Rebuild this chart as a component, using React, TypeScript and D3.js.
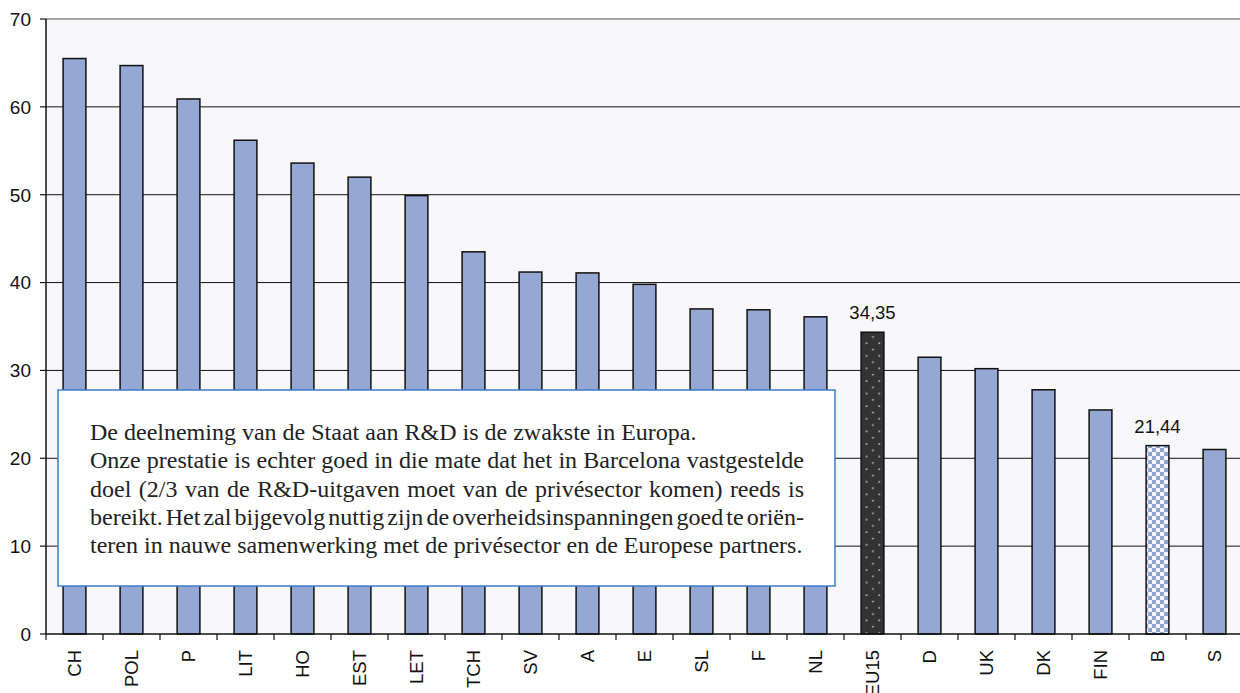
import { useMemo } from 'react';
import * as d3 from 'd3';

const countries = ['CH', 'POL', 'P', 'LIT', 'HO', 'EST', 'LET', 'TCH', 'SV', 'A', 'E', 'SL', 'F', 'NL', 'EU15', 'D', 'UK', 'DK', 'FIN', 'B', 'S'];
const shares = [65.5, 64.7, 60.9, 56.2, 53.6, 52.0, 49.9, 43.5, 41.2, 41.1, 39.8, 37.0, 36.9, 36.1, 34.35, 31.5, 30.2, 27.8, 25.5, 21.44, 21.0];
const yTickValues = [0, 10, 20, 30, 40, 50, 60, 70];
const labelled = ['EU15', 'B'];

const noteLines = [
  'De deelneming van de Staat aan R&D is de zwakste in Europa.',
  'Onze prestatie is echter goed in die mate dat het in Barcelona vastgestelde',
  'doel (2/3 van de R&D-uitgaven moet van de privésector komen) reeds is',
  'bereikt. Het zal bijgevolg nuttig zijn de overheidsinspanningen goed te oriën-',
  'teren in nauwe samenwerking met de privésector en de Europese partners.',
];
const justifiedLines = [false, true, true, true, false];

const W = 1240;
const H = 693;
const PLOT = { left: 46, top: 19, bottom: 634, right: 46 + 21 * 57 };
const BAR_FILL = '#95a7d3';
const AXIS_FONT = '"Liberation Sans", Arial, sans-serif';
const NOTE_FONT = '"Liberation Serif", "Times New Roman", serif';
const NOTE_SIZE = 24;
const NOTE_BOX = { x: 58, y: 390, w: 777, h: 196 };
const NOTE_TEXT = { x: 90, right: 804, y0: 440, step: 28.3 };

export default function App() {
  const x = d3.scaleBand<string>()
    .domain(countries)
    .range([PLOT.left, PLOT.right])
    .paddingInner(0.6)
    .paddingOuter(0.3);
  const y = d3.scaleLinear().domain([0, 70]).range([PLOT.bottom, PLOT.top]);

  // lay out justified note lines word by word
  const noteWords = useMemo(() => {
    const ctx = document.createElement('canvas').getContext('2d')!;
    ctx.font = `${NOTE_SIZE}px ${NOTE_FONT}`;
    return noteLines.map((line, i) => {
      const words = line.split(' ');
      if (!justifiedLines[i]) return [{ w: line, x: NOTE_TEXT.x }];
      const widths = words.map((w) => ctx.measureText(w).width);
      const total = d3.sum(widths);
      const gap = (NOTE_TEXT.right - NOTE_TEXT.x - total) / (words.length - 1);
      let cx = NOTE_TEXT.x;
      return words.map((w, k) => {
        const out = { w, x: cx };
        cx += widths[k] + gap;
        return out;
      });
    });
  }, []);

  const boundaries = d3.range(countries.length + 1).map((i) => PLOT.left + i * x.step());

  return (
    <svg width={W} height={H} style={{ position: 'absolute', left: 0, top: 0, background: '#fff' }}>
      <defs>
        <pattern id="dots" patternUnits="userSpaceOnUse" width={12.7} height={12.6}>
          <rect width={12.7} height={12.6} fill="#333" />
          <circle cx={3} cy={3} r={0.9} fill="#d8d8d8" />
          <circle cx={9.35} cy={9.3} r={0.9} fill="#d8d8d8" />
        </pattern>
        <pattern id="weave" patternUnits="userSpaceOnUse" width={8} height={8}>
          <rect width={8} height={8} fill="#c9d3ec" />
          <rect x={0} y={0} width={4} height={4} fill="#8fa2d3" />
          <rect x={4} y={4} width={4} height={4} fill="#8fa2d3" />
          <circle cx={6} cy={2} r={2.3} fill="#f4f6fc" />
          <circle cx={2} cy={6} r={2.3} fill="#f4f6fc" />
        </pattern>
      </defs>

      {/* plot background */}
      <rect x={PLOT.left} y={PLOT.top} width={PLOT.right - PLOT.left} height={PLOT.bottom - PLOT.top} fill="#f8f8fa" />
      <line x1={PLOT.left} x2={PLOT.right} y1={PLOT.top} y2={PLOT.top} stroke="#888" strokeWidth={1.5} />

      {/* grid */}
      {yTickValues.filter((v) => v > 0 && v < 70).map((v) => (
        <line key={v} x1={PLOT.left} x2={PLOT.right} y1={y(v)} y2={y(v)} stroke="#111" strokeWidth={1} />
      ))}

      {/* bars */}
      {countries.map((c, i) => (
        <rect
          key={c}
          x={x(c)}
          y={y(shares[i])}
          width={x.bandwidth()}
          height={y(0) - y(shares[i])}
          fill={c === 'EU15' ? 'url(#dots)' : c === 'B' ? 'url(#weave)' : BAR_FILL}
          stroke="#111"
          strokeWidth={1.5}
        />
      ))}

      {/* value labels */}
      {countries.map((c, i) => labelled.includes(c) && (
        <text
          key={c}
          x={x(c)! + x.bandwidth() / 2}
          y={y(shares[i]) - 13}
          textAnchor="middle"
          fontSize={18.5}
          fontFamily={AXIS_FONT}
          fill="#111"
        >
          {shares[i].toFixed(2).replace('.', ',')}
        </text>
      ))}

      {/* axes */}
      <line x1={PLOT.left} x2={PLOT.left} y1={PLOT.top} y2={PLOT.bottom} stroke="#111" strokeWidth={1.5} />
      <line x1={PLOT.left} x2={PLOT.right} y1={PLOT.bottom} y2={PLOT.bottom} stroke="#111" strokeWidth={1.5} />
      {yTickValues.map((v) => (
        <g key={v}>
          <line x1={PLOT.left - 6} x2={PLOT.left} y1={y(v)} y2={y(v)} stroke="#111" strokeWidth={1.2} />
          <text
            x={31}
            y={y(v)}
            dy="0.36em"
            textAnchor="end"
            fontSize={19}
            fontFamily={AXIS_FONT}
            fill="#111"
          >
            {v}
          </text>
        </g>
      ))}
      {boundaries.map((bx) => (
        <line key={bx} x1={bx} x2={bx} y1={PLOT.bottom} y2={PLOT.bottom + 6} stroke="#111" strokeWidth={1.2} />
      ))}
      {countries.map((c) => {
        const cx = x(c)! + x.bandwidth() / 2;
        return (
          <text
            key={c}
            transform={`translate(${cx},650) rotate(-90)`}
            dy="0.36em"
            textAnchor="end"
            fontSize={18.5}
            fontFamily={AXIS_FONT}
            fill="#111"
          >
            {c}
          </text>
        );
      })}

      {/* note box */}
      <rect
        x={NOTE_BOX.x}
        y={NOTE_BOX.y}
        width={NOTE_BOX.w}
        height={NOTE_BOX.h}
        fill="#fff"
        stroke="#3d7cc9"
        strokeWidth={1.5}
      />
      {noteWords.map((words, i) => (
        <text
          key={i}
          y={NOTE_TEXT.y0 + i * NOTE_TEXT.step}
          fontSize={NOTE_SIZE}
          fontFamily={NOTE_FONT}
          fill="#222"
        >
          {words.map((wd, k) => (
            <tspan key={k} x={wd.x}>{wd.w}</tspan>
          ))}
        </text>
      ))}
    </svg>
  );
}
